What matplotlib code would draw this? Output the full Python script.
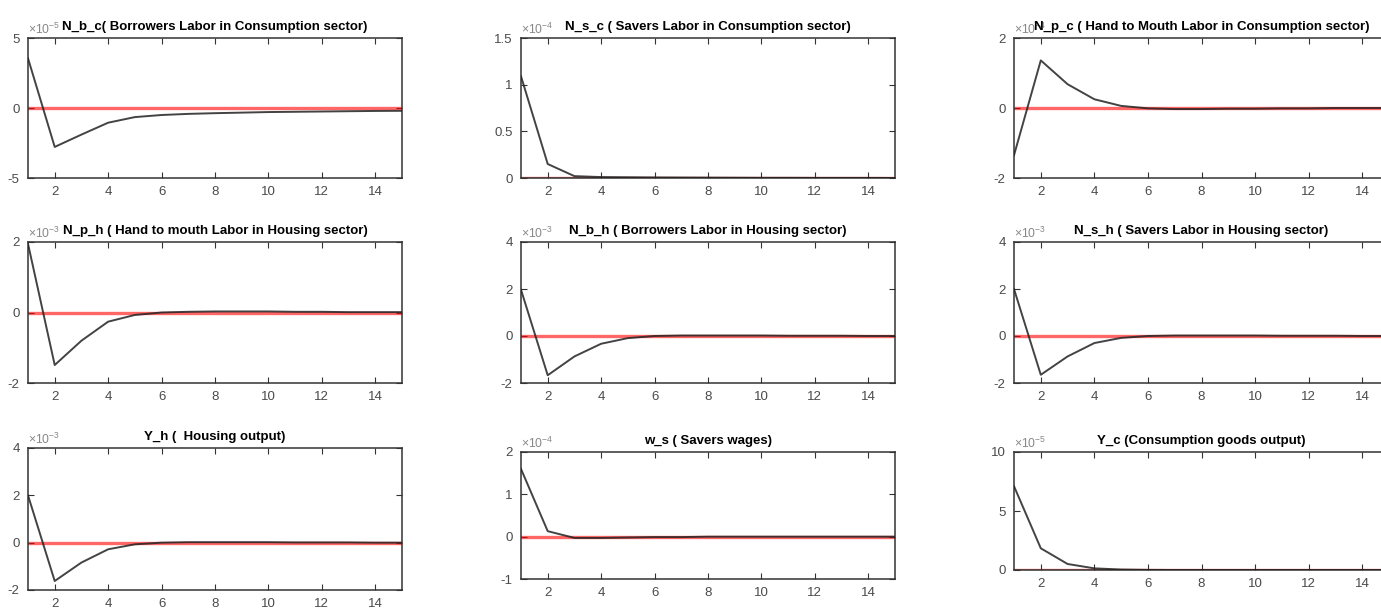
import matplotlib
matplotlib.use('Agg')
import matplotlib.pyplot as plt
from matplotlib.ticker import FuncFormatter
import numpy as np

periods = list(range(1, 16))

titles = [
    'N_b_c( Borrowers Labor in Consumption sector)',
    'N_s_c ( Savers Labor in Consumption sector)',
    'N_p_c ( Hand to Mouth Labor in Consumption sector)',
    'N_p_h ( Hand to mouth Labor in Housing sector)',
    'N_b_h ( Borrowers Labor in Housing sector)',
    'N_s_h ( Savers Labor in Housing sector)',
    'Y_h (  Housing output)',
    'w_s ( Savers wages)',
    'Y_c (Consumption goods output)',
]

# impulse responses, in units of 10^exponent
n_b_c = [3.55, -2.78, -1.9, -1.05, -0.65, -0.5, -0.42, -0.37, -0.33, -0.29, -0.27, -0.25, -0.23, -0.21, -0.2]
n_s_c = [1.09, 0.15, 0.02, 0.01, 0.008, 0.006, 0.005, 0.004, 0.003, 0.002, 0.002, 0.001, 0.001, 0.001, 0.0]
n_p_c = [-1.35, 1.36, 0.68, 0.25, 0.06, -0.01, -0.03, -0.03, -0.02, -0.02, -0.01, -0.01, 0.0, 0.0, 0.0]
n_p_h = [1.95, -1.49, -0.8, -0.26, -0.07, 0.0, 0.02, 0.03, 0.03, 0.03, 0.02, 0.02, 0.01, 0.01, 0.01]
n_b_h = [1.97, -1.67, -0.87, -0.33, -0.09, 0.0, 0.02, 0.02, 0.02, 0.02, 0.01, 0.01, 0.01, 0.0, 0.0]
n_s_h = [2.0, -1.65, -0.87, -0.3, -0.08, 0.0, 0.02, 0.02, 0.02, 0.02, 0.01, 0.01, 0.01, 0.0, 0.0]
y_h = [2.0, -1.62, -0.84, -0.28, -0.07, 0.0, 0.02, 0.02, 0.02, 0.02, 0.01, 0.01, 0.01, 0.0, 0.0]
w_s = [1.6, 0.13, -0.03, -0.03, -0.02, -0.01, -0.01, 0.0, 0.0, 0.0, 0.0, 0.0, 0.0, 0.0, 0.0]
y_c = [7.1, 1.84, 0.51, 0.14, 0.04, 0.01, 0.0, 0.0, 0.0, 0.0, 0.0, 0.0, 0.0, 0.0, 0.0]

series = [n_b_c, n_s_c, n_p_c, n_p_h, n_b_h, n_s_h, y_h, w_s, y_c]
exponents = [-5, -4, -4, -3, -3, -3, -3, -4, -5]
y_limits = [(-5, 5), (0, 1.5), (-2, 2), (-2, 2), (-2, 4), (-2, 4), (-2, 4), (-1, 2), (0, 10)]
y_ticks = [[-5, 0, 5], [0, 0.5, 1, 1.5], [-2, 0, 2], [-2, 0, 2], [-2, 0, 2, 4],
           [-2, 0, 2, 4], [-2, 0, 2, 4], [-1, 0, 1, 2], [0, 5, 10]]
x_ticks = [2, 4, 6, 8, 10, 12, 14]

# panel boxes in pixels: left, top, right, bottom
boxes = [
    (28, 38, 402, 178), (521, 38, 895, 178), (1014, 38, 1389, 178),
    (28, 242, 402, 383), (521, 242, 895, 383), (1014, 242, 1389, 383),
    (28, 448, 402, 590), (521, 452, 895, 579), (1014, 452, 1389, 570),
]

W, H = 1381, 612
FONT = ['Liberation Sans', 'DejaVu Sans']
GREY = '#4a4a4a'


def make_axes(fig, box):

    left, top, right, bottom = box
    return fig.add_axes([left / W, 1 - bottom / H, (right - left) / W, (bottom - top) / H])


def draw_panel(ax, title, values, exponent, ylim, yticks):

    scale = 10.0 ** exponent
    data = np.array(values) * scale
    ax.plot(periods, np.zeros(len(periods)), color='red', lw=2.4, alpha=0.6, zorder=2)
    ax.plot(periods, data, color='#222222', lw=1.4, alpha=0.85, zorder=3)
    ax.set_xlim(1, 15)
    ax.set_ylim(ylim[0] * scale, ylim[1] * scale)
    ax.set_xticks(x_ticks)
    ax.set_yticks([t * scale for t in yticks])
    ax.yaxis.set_major_formatter(FuncFormatter(lambda v, p: '%g' % round(v / scale, 6)))
    ax.tick_params(direction='in', top=True, right=True, length=4, width=0.8,
                   colors='#333333', labelcolor=GREY, labelsize=9.5, pad=6)
    for lab in ax.get_xticklabels() + ax.get_yticklabels():
        lab.set_family(FONT)
    for spine in ax.spines.values():
        spine.set_color('#333333')
        spine.set_linewidth(1.1)
    ax.set_title(title, fontsize=9.5, fontweight='bold', family=FONT, pad=6)
    ax.text(0.0, 1.01, r'$\times10^{%d}$' % exponent, transform=ax.transAxes,
            ha='left', va='bottom', fontsize=8.8, color='#888888')


def main():

    plt.rcParams['mathtext.fontset'] = 'custom'
    plt.rcParams['mathtext.rm'] = 'Liberation Sans'
    fig = plt.figure(figsize=(W / 100, H / 100), dpi=100)
    for i in range(9):
        ax = make_axes(fig, boxes[i])
        draw_panel(ax, titles[i], series[i], exponents[i], y_limits[i], y_ticks[i])
    fig.savefig('out.png', dpi=100)


if __name__ == '__main__':

    main()
